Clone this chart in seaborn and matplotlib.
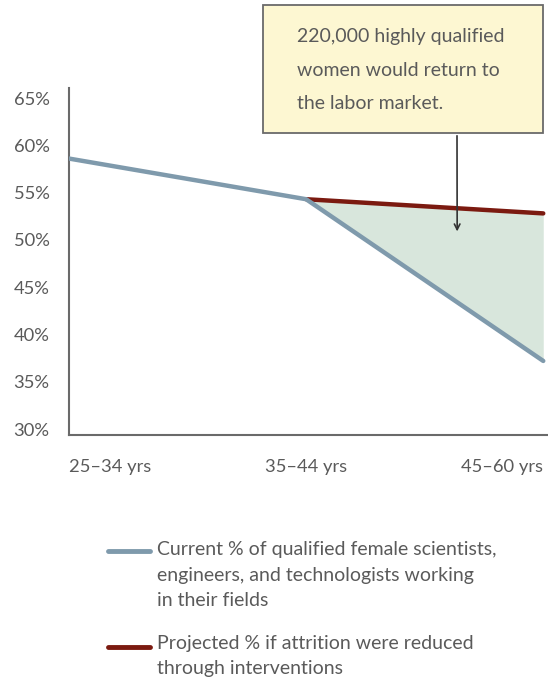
import numpy as np
import pandas as pd
import matplotlib
matplotlib.use('Agg')
import matplotlib.pyplot as plt
import seaborn as sns
from matplotlib.patches import Rectangle
from matplotlib.lines import Line2D

# chart data
age_groups = ['25\u201334 yrs', '35\u201344 yrs', '45\u201360 yrs']
current_pct = [58.6, 54.3, 37.2]
projected_pct = [np.nan, 54.3, 52.8]
y_ticks = [30, 35, 40, 45, 50, 55, 60, 65]
note_text = '220,000 highly qualified\nwomen would return to\nthe labor market.'
label_current = 'Current % of qualified female scientists,\nengineers, and technologists working\nin their fields'
label_projected = 'Projected % if attrition were reduced\nthrough interventions'

blue = '#7f9aac'
red = '#7b1a10'
fill_green = '#d8e6dc'
grey_text = '#5a5a5a'

sns.set_style('white')
plt.rcParams['font.family'] = ['Lato', 'DejaVu Sans']

df = pd.DataFrame({'x': range(len(age_groups)), 'current': current_pct, 'projected': projected_pct})

W, H = 548, 687
fig = plt.figure(figsize=(W / 100, H / 100), dpi=100)
ax = fig.add_axes([69 / W, 1 - 435 / H, (548 - 69) / W, (435 - 88) / H])

# shaded gap between projected and current
mask = df['projected'].notna()
ax.fill_between(df.loc[mask, 'x'], df.loc[mask, 'current'], df.loc[mask, 'projected'],
                color=fill_green, lw=0, zorder=1)
sns.lineplot(data=df, x='x', y='projected', color=red, lw=3.2, ax=ax, zorder=2)
sns.lineplot(data=df, x='x', y='current', color=blue, lw=3.2, ax=ax, zorder=3)

ax.set_xlim(0, 2.02)
ax.set_ylim(29.37, 66.06)
ax.set_yticks(y_ticks)
ax.set_yticklabels([f'{v}%' for v in y_ticks])
ax.set_xticks(df['x'])
ax.set_xticklabels(age_groups)
for lab, ha in zip(ax.get_xticklabels(), ['left', 'center', 'right']):
    lab.set_ha(ha)
ax.set_xlabel('')
ax.set_ylabel('')
ax.tick_params(axis='both', length=0, labelsize=13.2, colors=grey_text)
ax.tick_params(axis='y', pad=14)
ax.tick_params(axis='x', pad=17)
sns.despine(ax=ax)
for s in ['left', 'bottom']:
    ax.spines[s].set_color('#6a6a6a')
    ax.spines[s].set_linewidth(1.5)

# callout box
fig.patches.append(Rectangle((263 / W, 1 - 133 / H), (543 - 263) / W, (133 - 5) / H,
                             transform=fig.transFigure, facecolor='#fdf7d2',
                             edgecolor='#6a6a6a', lw=1.3, zorder=5))
fig.text(297 / W, 1 - 70 / H, note_text, ha='left', va='center', fontsize=14,
         color=grey_text, linespacing=2.15, zorder=6)
ax.annotate('', xy=(1.637, 50.6), xycoords='data',
            xytext=(457, H - 133), textcoords='figure pixels',
            arrowprops=dict(arrowstyle='->', color='#333333', lw=1.2), zorder=6)

# legend drawn by hand
fig.add_artist(Line2D([108 / W, 150 / W], [1 - 551 / H, 1 - 551 / H], color=blue, lw=3.5))
fig.text(157 / W, 1 - 575 / H, label_current, ha='left', va='center', fontsize=14,
         color=grey_text, linespacing=1.6)
fig.add_artist(Line2D([108 / W, 150 / W], [1 - 647 / H, 1 - 647 / H], color=red, lw=3.5))
fig.text(157 / W, 1 - 656 / H, label_projected, ha='left', va='center', fontsize=14,
         color=grey_text, linespacing=1.6)

fig.savefig('out.png', dpi=100)
